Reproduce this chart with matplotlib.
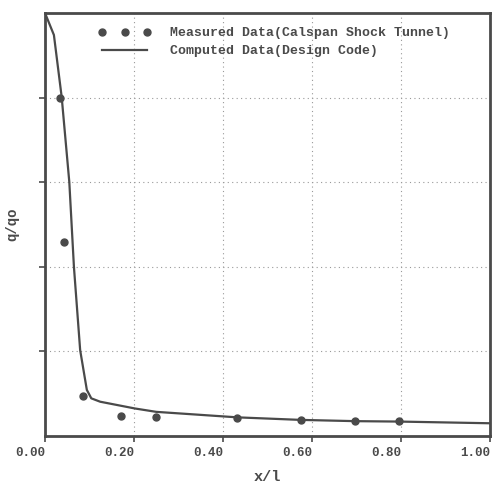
import matplotlib.pyplot as plt
import matplotlib.transforms as mtransforms
import numpy as np

# measured heat-transfer ratio along the body (shock tunnel)
x_meas = [0.034, 0.043, 0.086, 0.170, 0.250, 0.432, 0.575, 0.696, 0.796]
q_meas = [0.800, 0.458, 0.093, 0.047, 0.043, 0.042, 0.036, 0.034, 0.035]

# computed values from the design code
x_comp = [0.0, 0.020, 0.0375, 0.0546, 0.065, 0.079, 0.094, 0.104, 0.124,
          0.202, 0.250, 0.432, 0.574, 0.697, 0.796, 1.0]
q_comp = [1.0, 0.948, 0.801, 0.600, 0.399, 0.202, 0.108, 0.088, 0.080,
          0.064, 0.056, 0.043, 0.037, 0.034, 0.033, 0.029]

x_ticks = [0.0, 0.2, 0.4, 0.6, 0.8, 1.0]
y_ticks = [0.2, 0.4, 0.6, 0.8]

ink = '#4a4a4a'
mono = ['Liberation Mono', 'DejaVu Sans Mono']

fig = plt.figure(figsize=(4.94, 4.93), dpi=100)
ax = fig.add_axes([0.0911, 0.1166, 0.9009, 0.857])

ax.plot(x_meas, q_meas, 'o', ls='none', color=ink, ms=5,
        label='Measured Data(Calspan Shock Tunnel)')
ax.plot(x_comp, q_comp, '-', color=ink, lw=1.6,
        label='Computed Data(Design Code)')

ax.set_xlim(0, 1.0)
ax.set_ylim(0, 1.0)
ax.set_xticks(x_ticks)
ax.set_xticklabels(['%.2f' % v for v in x_ticks], family=mono,
                   fontweight='bold', fontsize=9, color=ink, ha='right')
# labels sit just left of their tick
shift = mtransforms.ScaledTranslation(2 / 100, 0, fig.dpi_scale_trans)
for lab in ax.get_xticklabels():
    lab.set_transform(lab.get_transform() + shift)
ax.set_yticks(y_ticks)
ax.set_yticklabels([])
ax.tick_params(direction='out', length=4, width=1.2, color=ink)
ax.tick_params(axis='x', pad=4)
ax.grid(True, ls=(0, (1, 3)), color='#999999', lw=0.8)

for s in ax.spines.values():
    s.set_color(ink)
    s.set_linewidth(2)

ax.set_xlabel('x/l', family=mono, fontweight='bold', fontsize=11,
              color=ink, labelpad=8)
ax.set_ylabel('q/qo', family=mono, fontweight='bold', fontsize=10,
              color=ink)
ax.yaxis.set_label_coords(-0.058, 0.5)

leg = ax.legend(loc='upper left', bbox_to_anchor=(0.0935, 0.995), frameon=False,
                numpoints=3, handlelength=4.0, handletextpad=1.42,
                labelspacing=0.45, prop={'family': mono, 'weight': 'bold',
                                         'size': 9.5})
for t in leg.get_texts():
    t.set_color(ink)

fig.savefig('out.png', dpi=100)
